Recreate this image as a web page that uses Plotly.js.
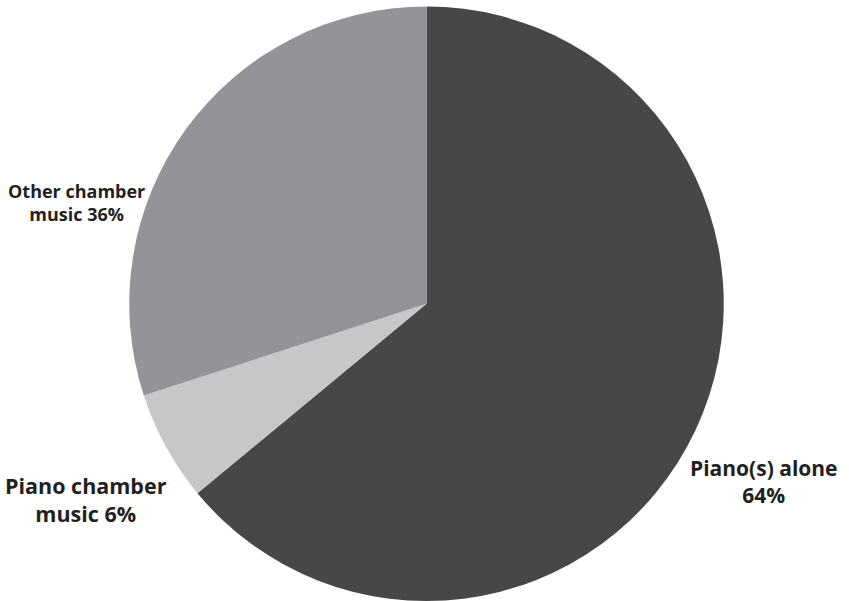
<!DOCTYPE html>
<html>
<head>
<meta charset="utf-8">
<script src="https://cdn.plot.ly/plotly-3.0.1.min.js"></script>
<style>html,body{margin:0;padding:0;background:#fff;}#chart{width:849px;height:601px;}</style>
</head>
<body>
<div id="chart"></div>
<script>
const categories = ["Piano(s) alone", "Piano chamber music", "Other chamber music"];
const values = [64, 6, 30];
const labelTexts = ["Piano(s) alone<br>64%", "Piano chamber<br>music 6%", "Other chamber<br>music 36%"];
const colors = ["#474749", "#c6c7c9", "#939497"];

const W = 849, H = 601;
const cx = 426.5, cy = 304, r = 297.5;

const trace = {
  type: "pie",
  labels: categories,
  values: values,
  sort: false,
  direction: "clockwise",
  rotation: 0,
  textinfo: "none",
  hoverinfo: "none",
  marker: {colors: colors, line: {width: 0}},
  showlegend: false,
  domain: {
    x: [(cx - r) / W, (cx + r) / W],
    y: [(H - cy - r) / H, (H - cy + r) / H]
  }
};

const labelPos = [
  {x: 764, y: 481, size: 21},
  {x: 86, y: 499, size: 21.5},
  {x: 76, y: 203, size: 18}
];

const annotations = labelTexts.map((t, i) => ({
  text: t,
  x: labelPos[i].x / W,
  y: 1 - labelPos[i].y / H,
  xref: "paper", yref: "paper",
  xanchor: "center", yanchor: "middle",
  showarrow: false,
  align: "center",
  font: {family: "Open Sans, sans-serif", size: labelPos[i].size, color: "#231f20", weight: "bold"}
}));

Plotly.newPlot("chart", [trace], {
  width: W, height: H,
  margin: {l: 0, r: 0, t: 0, b: 0},
  paper_bgcolor: "#ffffff",
  annotations: annotations
}, {displayModeBar: false, staticPlot: true});
</script>
</body>
</html>
